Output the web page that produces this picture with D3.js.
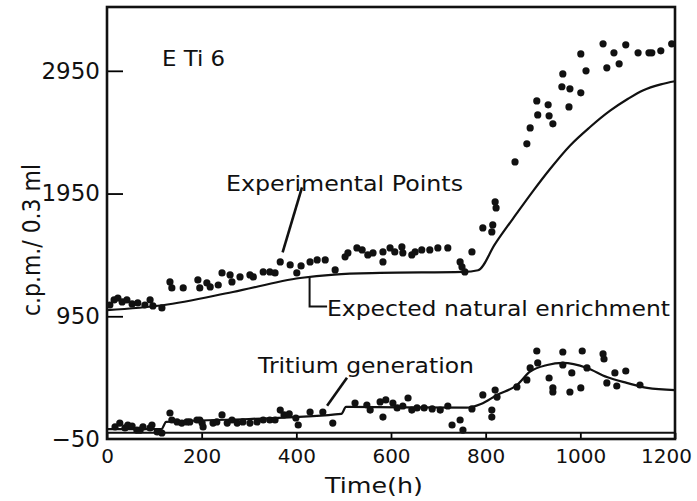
<!DOCTYPE html>
<html>
<head>
<meta charset="utf-8">
<script src="https://cdn.jsdelivr.net/npm/d3@7"></script>
<style>
  body { margin: 0; background: #fff; }
  text { font-family: "DejaVu Sans", sans-serif; fill: #111; }
</style>
</head>
<body>
<div id="canvas"></div>
<script>
"use strict";

/* Configuration variables: drawing */
let svgWidth = 697;
let svgHeight = 501;
let plotLeft = 107;
let plotRight = 675;
let plotTop = 7;
let plotBottom = 439;

/* Axis ticks */
let xTicks = [0, 200, 400, 600, 800, 1000, 1200];
let yTicks = [2950, 1950, 950, -50];
let yMin = -50;
let yMax = 3470;

/* Experimental points, upper series: [hours, c.p.m.] */
let experimentalPoints = [
  [6, 1042], [15, 1083], [23, 1099], [32, 1067], [42, 1083], [53, 1051], [65, 1059], [80, 1042],
  [91, 1083], [97, 1034], [116, 1018], [133, 1230], [137, 1181], [161, 1181], [192, 1246], [196, 1181],
  [211, 1222], [218, 1189], [235, 1205], [243, 1303], [260, 1287], [264, 1230], [281, 1271], [302, 1287],
  [309, 1271], [330, 1311], [344, 1311], [355, 1303], [366, 1393], [387, 1368], [401, 1303], [410, 1360],
  [429, 1393], [444, 1409], [461, 1409], [482, 1328], [503, 1434], [509, 1466], [528, 1507], [539, 1491],
  [551, 1450], [562, 1466], [583, 1474], [583, 1393], [598, 1507], [608, 1474], [623, 1515], [625, 1466],
  [644, 1450], [651, 1474], [665, 1491], [682, 1491], [699, 1507], [720, 1507], [746, 1393], [750, 1352],
  [756, 1311], [771, 1474], [794, 1670], [813, 1637], [815, 1694], [820, 1882], [822, 1833], [862, 2208],
  [887, 2355], [894, 2485], [908, 2705], [910, 2591], [932, 2673], [934, 2583], [942, 2518], [963, 2925],
  [961, 2820], [978, 2803], [976, 2656], [1001, 3088], [1001, 2771], [1012, 2950], [1048, 3170], [1056, 2974],
  [1071, 3097], [1082, 3007], [1096, 3162], [1122, 3097], [1145, 3097], [1151, 3097], [1170, 3113], [1193, 3170]
];

/* Experimental points, lower (tritium) series: [hours, c.p.m.] */
let tritiumPoints = [
  [17, 48], [27, 80], [38, 40], [44, 64], [53, 56], [63, 23], [70, 23], [76, 48], [91, 40], [95, 64],
  [106, 7], [116, -1], [133, 162], [137, 105], [148, 89], [158, 80], [169, 89], [175, 89], [190, 105],
  [196, 105], [201, 80], [203, 48], [224, 80], [232, 89], [243, 146], [254, 80], [264, 105], [275, 80],
  [287, 89], [302, 80], [317, 89], [330, 105], [344, 105], [355, 105], [366, 186], [374, 146], [385, 154],
  [399, 121], [404, 64], [429, 170], [456, 170], [477, 80], [524, 243], [549, 227], [556, 186], [577, 252],
  [583, 129], [589, 268], [604, 243], [613, 203], [625, 219], [636, 284], [644, 186], [655, 203], [670, 203],
  [687, 195], [704, 186], [720, 219], [729, 64], [746, 105], [752, 23], [771, 195], [794, 309], [813, 186],
  [813, 129], [820, 349], [824, 292], [866, 374], [887, 431], [894, 529], [908, 667], [910, 570], [934, 447],
  [942, 366], [942, 333], [963, 659], [963, 553], [978, 333], [982, 488], [1001, 366], [1004, 667],
  [1014, 529], [1048, 643], [1050, 602], [1056, 407], [1073, 488], [1077, 382], [1096, 504], [1126, 390]
];

/* Expected natural enrichment curve */
let enrichmentCurve = [
  [0, 1000], [118, 1040], [266, 1148], [408, 1262], [480, 1290], [577, 1303], [752, 1311], [784, 1325],
  [820, 1540], [866, 1790], [900, 1970], [936, 2150], [978, 2340], [1020, 2490], [1063, 2625],
  [1100, 2720], [1132, 2790], [1170, 2840], [1200, 2865]
];

/* Tritium generation curve */
let tritiumCurve = [
  [0, 31], [115, 31], [125, 89], [300, 113], [495, 154], [505, 211], [760, 205], [790, 235],
  [824, 309], [866, 390], [893, 496], [930, 553], [963, 570], [1014, 529], [1056, 455],
  [1098, 407], [1141, 366], [1200, 349]
];

/* Set up canvas */
let svg = d3.select("#canvas")
  .append("svg")
  .attr("width", svgWidth)
  .attr("height", svgHeight);

/* Scales */
let xScale = d3.scaleLinear()
  .domain([0, 1200])
  .range([plotLeft, plotRight]);

let yScale = d3.scaleLinear()
  .domain([yMin, yMax])
  .range([plotBottom, plotTop]);

/* Axes with inward ticks */
let yAxis = svg.append("g")
  .attr("transform", `translate(${plotLeft},0)`)
  .call(d3.axisLeft(yScale).tickValues(yTicks).tickSize(-16).tickPadding(7).tickFormat(d3.format("d")));

yAxis.selectAll(".tick line")
  .attr("stroke-width", 1.8)
  .filter(d => d === yMin).remove();

yAxis.selectAll(".tick text").attr("font-size", 23);

let xAxis = svg.append("g")
  .attr("transform", `translate(0,${plotBottom})`)
  .call(d3.axisBottom(xScale).tickValues(xTicks).tickSize(-(plotBottom - yScale(0)))
    .tickPadding(10).tickFormat(d3.format("d")));

xAxis.selectAll(".tick line").attr("stroke-width", 1.8);
xAxis.selectAll(".tick text")
  .attr("font-size", 20)
  .attr("dx", d => d === 1200 ? -9 : 0);

svg.selectAll(".domain").remove();
svg.selectAll(".tick text").attr("fill", "#111");

/* Frame and zero line */
svg.append("rect")
  .attr("x", plotLeft)
  .attr("y", plotTop)
  .attr("width", plotRight - plotLeft)
  .attr("height", plotBottom - plotTop)
  .attr("fill", "none")
  .attr("stroke", "#111")
  .attr("stroke-width", 2.6);

svg.append("line")
  .attr("x1", plotLeft)
  .attr("x2", plotRight)
  .attr("y1", yScale(0))
  .attr("y2", yScale(0))
  .attr("stroke", "#111")
  .attr("stroke-width", 2);

/* Curves */
let line = d3.line()
  .x(d => xScale(d[0]))
  .y(d => yScale(d[1]))
  .curve(d3.curveMonotoneX);

svg.append("path")
  .attr("d", line(enrichmentCurve))
  .attr("fill", "none")
  .attr("stroke", "#111")
  .attr("stroke-width", 2.2);

svg.append("path")
  .attr("d", line(tritiumCurve))
  .attr("fill", "none")
  .attr("stroke", "#111")
  .attr("stroke-width", 2.2);

/* Points */
svg.append("g")
  .selectAll("circle")
  .data(experimentalPoints.concat(tritiumPoints))
  .join("circle")
  .attr("cx", d => xScale(d[0]))
  .attr("cy", d => yScale(d[1]))
  .attr("r", 3.6)
  .attr("fill", "#111");

/* Annotations */
svg.append("text")
  .attr("x", 162).attr("y", 66)
  .attr("font-size", 22)
  .attr("textLength", 63)
  .attr("lengthAdjust", "spacingAndGlyphs")
  .text("E Ti 6");

svg.append("text")
  .attr("x", 226).attr("y", 191)
  .attr("font-size", 21)
  .attr("textLength", 237)
  .attr("lengthAdjust", "spacingAndGlyphs")
  .text("Experimental Points");

svg.append("line") // pointer to the experimental points
  .attr("x1", xScale(412)).attr("y1", yScale(2000))
  .attr("x2", xScale(371)).attr("y2", yScale(1470))
  .attr("stroke", "#111")
  .attr("stroke-width", 2.6);

svg.append("path") // leader to expected natural enrichment
  .attr("d", `M${xScale(428)},${yScale(1275)} V${yScale(1030)} H${xScale(465)}`)
  .attr("fill", "none")
  .attr("stroke", "#111")
  .attr("stroke-width", 2);

svg.append("text")
  .attr("x", 327).attr("y", 316)
  .attr("font-size", 22)
  .attr("textLength", 343)
  .attr("lengthAdjust", "spacingAndGlyphs")
  .text("Expected natural enrichment");

svg.append("text")
  .attr("x", 258).attr("y", 373)
  .attr("font-size", 22)
  .attr("textLength", 216)
  .attr("lengthAdjust", "spacingAndGlyphs")
  .text("Tritium generation");

svg.append("line") // pointer to the tritium generation curve
  .attr("x1", xScale(507)).attr("y1", yScale(450))
  .attr("x2", xScale(465)).attr("y2", yScale(220))
  .attr("stroke", "#111")
  .attr("stroke-width", 2.6);

/* Axis titles */
svg.append("text")
  .attr("x", 374).attr("y", 493)
  .attr("text-anchor", "middle")
  .attr("font-size", 21)
  .attr("textLength", 98)
  .attr("lengthAdjust", "spacingAndGlyphs")
  .text("Time(h)");

svg.append("text")
  .attr("transform", "translate(40,240) rotate(-90)")
  .attr("text-anchor", "middle")
  .attr("font-size", 25)
  .attr("textLength", 152)
  .attr("lengthAdjust", "spacingAndGlyphs")
  .text("c.p.m./ 0.3 ml");
</script>
</body>
</html>
